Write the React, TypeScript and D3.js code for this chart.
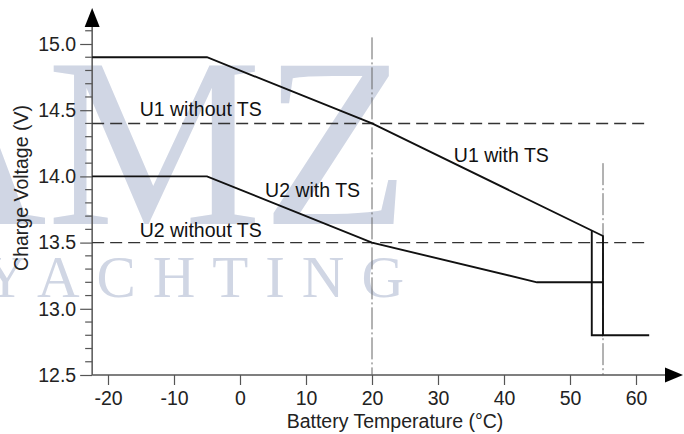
import React, { useRef, useEffect } from 'react';
import * as d3 from 'd3';

// curve with temperature sensor
const u1Temps = [-22.4, -5, 20, 55, 55, 62];
const u1Volts = [14.9, 14.9, 14.4, 13.55, 12.8, 12.8];
const u2Temps = [-22.4, -5, 20, 45, 55];
const u2Volts = [14.0, 14.0, 13.5, 13.2, 13.2];
const cutTemps = [53.3, 53.3, 55];
const cutVolts = [13.59, 12.8, 12.8];

// fixed voltages without sensor
const refNames = ['U1 without TS', 'U2 without TS'];
const refVolts = [14.4, 13.5];

// dash-dot markers
const markTemps = [20, 55];
const markTops = [15.05, 14.1];

const xTicks = [-20, -10, 0, 10, 20, 30, 40, 50, 60];
const yTicks = [12.5, 13.0, 13.5, 14.0, 14.5, 15.0];

const App = () => {
    const svgRef = useRef(null);

    useEffect(() => {
        const svgWidth = 684;
        const svgHeight = 434;
        const font = 'Liberation Sans, Arial, sans-serif';
        const fs = 19.5;

        const svg = d3.select(svgRef.current)
            .attr('width', svgWidth)
            .attr('height', svgHeight)
            .style('display', 'block')
            .style('position', 'absolute')
            .style('left', 0)
            .style('top', 0)
            .style('background', '#fff');
        svg.selectAll('*').remove();

        const x = d3.scaleLinear().domain([-20, 60]).range([108, 636]);
        const y = d3.scaleLinear().domain([12.5, 15.0]).range([375, 44]);
        const x0 = x(-22.4);
        const y0 = y(12.5);

        // watermark
        const wm = svg.append('g').attr('fill', '#d0d6e4').attr('font-family', 'Liberation Serif, serif');
        wm.append('text').attr('x', -128).attr('y', 224).attr('font-size', 242).text('AMZ');
        wm.append('text').attr('x', -16).attr('y', 297).attr('font-size', 59)
            .attr('textLength', 420).attr('lengthAdjust', 'spacing').text('YACHTING');

        // axes
        const axisColor = '#555';
        svg.append('line').attr('x1', x0).attr('x2', 668).attr('y1', y0).attr('y2', y0)
            .attr('stroke', axisColor).attr('stroke-width', 1.5);
        svg.append('path').attr('d', `M683,${y0} L665,${y0 - 7.5} L665,${y0 + 7.5} Z`).attr('fill', '#000');
        svg.append('line').attr('x1', x0).attr('x2', x0).attr('y1', y0).attr('y2', 24)
            .attr('stroke', axisColor).attr('stroke-width', 1.5);
        svg.append('path').attr('d', `M${x0},8 L${x0 - 7.5},27 L${x0 + 7.5},27 Z`).attr('fill', '#000');

        const xAxis = svg.append('g').attr('transform', `translate(0,${y0})`)
            .call(d3.axisBottom(x).tickValues(xTicks).tickSize(10).tickPadding(6).tickFormat((d) => String(d)));
        xAxis.select('.domain').remove();
        xAxis.selectAll('line').attr('stroke', axisColor).attr('stroke-width', 1.2);
        xAxis.selectAll('text').attr('font-size', fs).attr('font-family', font).attr('fill', '#222');

        const minor = d3.range(125, 152).map((v) => v / 10).filter((v) => Math.round(v * 10) % 5 !== 0);
        svg.append('g').selectAll('line').data(minor).enter().append('line')
            .attr('x1', x0 - 7).attr('x2', x0).attr('y1', (d) => y(d)).attr('y2', (d) => y(d))
            .attr('stroke', axisColor).attr('stroke-width', 1.2);

        const yAxis = svg.append('g').attr('transform', `translate(${x0},0)`)
            .call(d3.axisLeft(y).tickValues(yTicks).tickSize(12).tickPadding(4).tickFormat(d3.format('.1f')));
        yAxis.select('.domain').remove();
        yAxis.selectAll('line').attr('stroke', axisColor).attr('stroke-width', 1.2);
        yAxis.selectAll('text').attr('font-size', fs).attr('font-family', font).attr('fill', '#222');

        svg.append('text').attr('transform', `translate(28,188) rotate(-90)`)
            .attr('text-anchor', 'middle').attr('font-size', fs).attr('font-family', font).attr('fill', '#222')
            .text('Charge Voltage (V)');
        svg.append('text').attr('x', 395).attr('y', 428)
            .attr('text-anchor', 'middle').attr('font-size', fs).attr('font-family', font).attr('fill', '#222')
            .text('Battery Temperature (°C)');

        // dash-dot markers
        markTemps.forEach((t, i) => {
            svg.append('line').attr('x1', x(t)).attr('x2', x(t)).attr('y1', y(markTops[i])).attr('y2', y0)
                .attr('stroke', '#666').attr('stroke-width', 1).attr('stroke-dasharray', '22,3,2,3');
        });

        // reference lines
        refVolts.forEach((v) => {
            svg.append('line').attr('x1', x0).attr('x2', x(62)).attr('y1', y(v)).attr('y2', y(v))
                .attr('stroke', '#333').attr('stroke-width', 1.4).attr('stroke-dasharray', '12,6');
        });

        const line = d3.line()
            .x((d) => x(d[0]))
            .y((d) => y(d[1]));

        [[u1Temps, u1Volts], [u2Temps, u2Volts], [cutTemps, cutVolts]].forEach(([ts, vs]) => {
            svg.append('path')
                .datum(ts.map((t, i) => [t, vs[i]]))
                .attr('fill', 'none')
                .attr('stroke', '#111')
                .attr('stroke-width', 1.9)
                .attr('d', line);
        });

        // labels
        const labels = [
            { text: refNames[0], t: -15.2, v: 14.4, dy: -7 },
            { text: refNames[1], t: -15.2, v: 13.5, dy: -6 },
            { text: 'U2 with TS', t: 3.8, v: 13.5, dy: -46 },
            { text: 'U1 with TS', t: 32.4, v: 13.5, dy: -81 },
        ];
        svg.append('g').selectAll('text').data(labels).enter().append('text')
            .attr('x', (d) => x(d.t)).attr('y', (d) => y(d.v) + d.dy)
            .attr('font-size', fs).attr('font-family', font).attr('fill', '#111')
            .text((d) => d.text);
    }, []);

    return (
        <div>
            <svg ref={svgRef} />
        </div>
    );
};

export default App;
